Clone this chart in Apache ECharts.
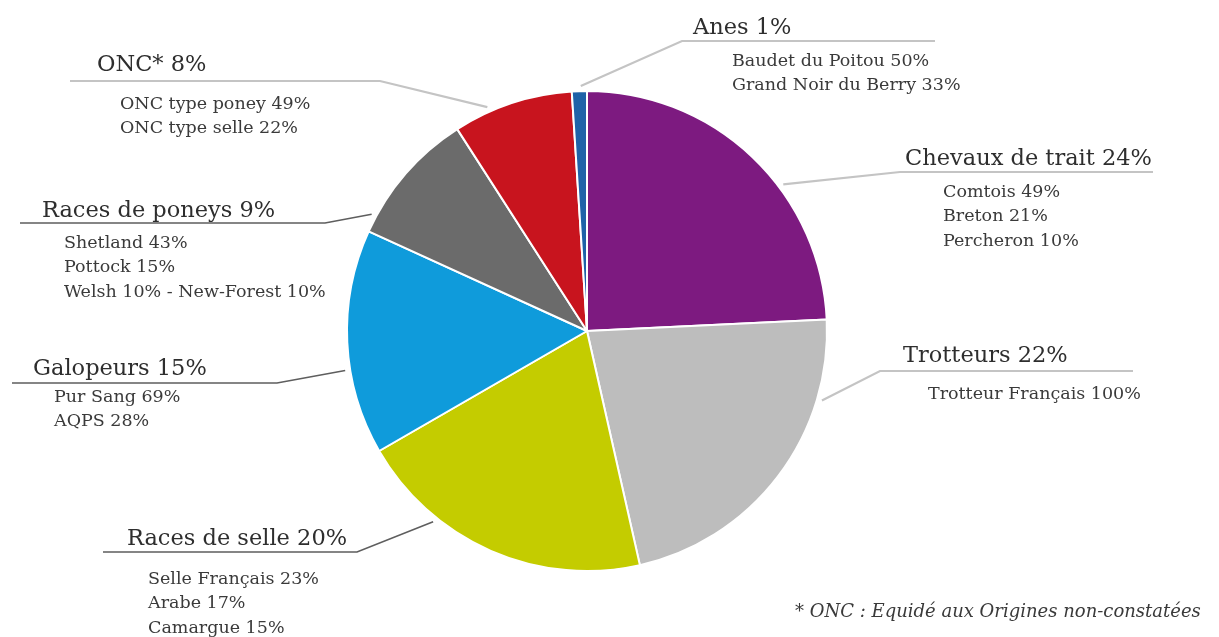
<!DOCTYPE html>
<html>
<head>
<meta charset="utf-8">
<title>Répartition des équidés par type de race</title>
<script src="https://cdn.jsdelivr.net/npm/echarts@6/dist/echarts.min.js"></script>
<style>
  html, body { margin: 0; padding: 0; background: #ffffff; }
  #chart { width: 1219px; height: 637px; }
</style>
</head>
<body>
<div id="chart"></div>
<script>
// Breed families, their share of the herd (%) and the leading breeds inside each family
const categories = ['Chevaux de trait', 'Trotteurs', 'Races de selle', 'Galopeurs', 'Races de poneys', 'ONC*', 'Anes'];
const shares = [24, 22, 20, 15, 9, 8, 1];
const breeds = [
  ['Comtois 49%', 'Breton 21%', 'Percheron 10%'],
  ['Trotteur Français 100%'],
  ['Selle Français 23%', 'Arabe 17%', 'Camargue 15%'],
  ['Pur Sang 69%', 'AQPS 28%'],
  ['Shetland 43%', 'Pottock 15%', 'Welsh 10% - New-Forest 10%'],
  ['ONC type poney 49%', 'ONC type selle 22%'],
  ['Baudet du Poitou 50%', 'Grand Noir du Berry 33%']
];
const sliceColors = ['#7d1a80', '#bdbdbd', '#c4cc00', '#0f9bdb', '#6b6b6b', '#c8141e', '#1f62a8'];
const footnote = '* ONC : Equidé aux Origines non-constatées';

// Pie geometry
const CX = 587, CY = 331, R = 240;
const SERIF = '"DejaVu Serif", "Liberation Serif", serif';
const SUB_LH = 24.5;

// Callout placement: title left/centre, sub-list left/first-line centre,
// underline far end / elbow / height, where the leader leaves the slice (fraction of the arc)
const callouts = [
  { tx: 905, ty: 159, sx: 943, sy: 192, ex: 1153, bx: 900, ly: 172, f: 0.61, dark: false },
  { tx: 903, ty: 356, sx: 928, sy: 394, ex: 1133, bx: 880, ly: 371, f: 0.24, dark: false },
  { tx: 127, ty: 539, sx: 148, sy: 579, ex: 103, bx: 357, ly: 552, f: 0.71, dark: true },
  { tx: 33, ty: 369, sx: 54, sy: 397, ex: 12, bx: 277, ly: 383, f: 0.38, dark: true },
  { tx: 42, ty: 211, sx: 64, sy: 243, ex: 20, bx: 325, ly: 223, f: 0.12, dark: true },
  { tx: 97, ty: 65, sx: 120, sy: 104, ex: 70, bx: 380, ly: 81, f: 0.30, dark: false },
  { tx: 693, ty: 28, sx: 732, sy: 61, ex: 935, bx: 682, ly: 41, f: 0.60, dark: false }
];

const total = shares.reduce((a, b) => a + b, 0);
const startFrac = [];
shares.reduce((acc, v, i) => { startFrac[i] = acc / total; return acc + v; }, 0);

function leaderStart(i) {
  const frac = startFrac[i] + callouts[i].f * shares[i] / total;
  const a = frac * Math.PI * 2;
  const r = R + 5;
  return [CX + r * Math.sin(a), CY - r * Math.cos(a)];
}

function titleLineHeight(c) {
  return 2 * (c.sy - c.ty - SUB_LH / 2);
}

const data = categories.map((name, i) => {
  const c = callouts[i];
  const lines = ['{t|' + name + ' ' + shares[i] + '%}'].concat(breeds[i].map(b => '{s|' + b + '}'));
  return {
    name: name,
    value: shares[i],
    itemStyle: { color: sliceColors[i] },
    label: {
      formatter: lines.join('\n'),
      rich: {
        t: { fontFamily: SERIF, fontSize: 22.5, color: '#2e2e2e', lineHeight: titleLineHeight(c) },
        s: { fontFamily: SERIF, fontSize: 17.5, color: '#3a3a3a', lineHeight: SUB_LH, padding: [0, 0, 0, c.sx - c.tx] }
      }
    },
    labelLine: {
      lineStyle: { color: c.dark ? '#5e5e5e' : '#c4c4c4', width: c.dark ? 1.6 : 2.2 }
    }
  };
});

const chart = echarts.init(document.getElementById('chart'), null, { renderer: 'canvas' });
chart.setOption({
  backgroundColor: '#ffffff',
  animation: false,
  series: [{
    type: 'pie',
    center: [CX, CY],
    radius: R,
    startAngle: 90,
    clockwise: true,
    avoidLabelOverlap: false,
    itemStyle: { borderColor: '#ffffff', borderWidth: 2 },
    label: { show: true, position: 'outside' },
    labelLine: { show: true, smooth: false },
    emphasis: { disabled: true },
    labelLayout: function (params) {
      const i = params.dataIndex;
      const c = callouts[i];
      const lt = titleLineHeight(c);
      return {
        x: c.tx,
        y: c.ty - lt / 2,
        align: 'left',
        verticalAlign: 'top',
        labelLinePoints: [leaderStart(i), [c.bx, c.ly], [c.ex, c.ly]]
      };
    },
    data: data
  }],
  graphic: [{
    type: 'text',
    left: 795,
    top: 603,
    style: {
      text: footnote,
      font: 'italic 18px ' + SERIF,
      fill: '#3a3a3a'
    }
  }]
});
</script>
</body>
</html>
